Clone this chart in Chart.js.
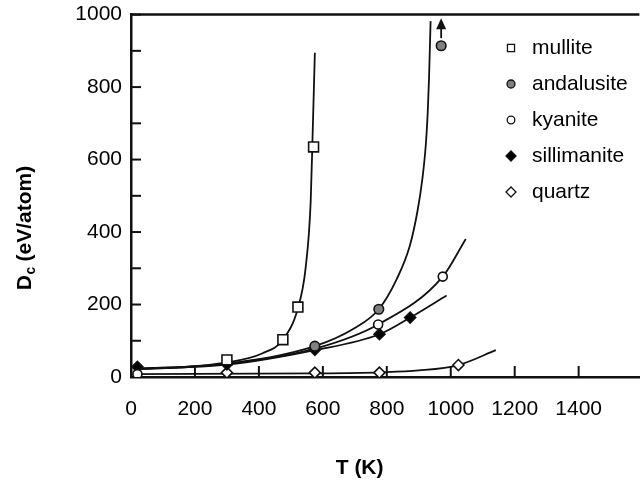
<!DOCTYPE html>
<html>
<head>
<meta charset="utf-8">
<title>Dc vs T</title>
<script src="https://cdn.jsdelivr.net/npm/chart.js@4.4.1/dist/chart.umd.min.js"></script>
<style>
  html, body { margin: 0; padding: 0; background: #fff; overflow: hidden; }
  /* canvas is a little larger than the window so the plot box reaches the top/right like the original */
  #wrap { width: 648px; height: 492px; margin-top: -7px; }
</style>
</head>
<body>
<div id="wrap"><canvas id="dcChart"></canvas></div>
<script>
const labels = ['mullite', 'andalusite', 'kyanite', 'sillimanite', 'quartz']

// measured points (T in K, Dc in eV/atom)
const mulliteT = [300, 475, 522, 571]
const mulliteD = [47, 103, 193, 635]
const andalusiteT = [575, 775, 970]
const andalusiteD = [85, 187, 914]
const kyaniteT = [20, 773, 975]
const kyaniteD = [8, 145, 277]
const sillimaniteT = [20, 300, 575, 777, 873]
const sillimaniteD = [28, 35, 75, 118, 164]
const quartzT = [300, 575, 777, 1024]
const quartzD = [12, 12, 12, 33]

// fitted curves
const mulliteCurveT = [10, 150, 300, 410, 475, 522, 546, 562, 568, 575]
const mulliteCurveD = [22, 26, 40, 65, 103, 190, 300, 485, 668, 895]
const andalusiteCurveT = [10, 300, 575, 700, 775, 831, 872, 896, 911, 922, 928, 932, 937]
const andalusiteCurveD = [22, 37, 85, 135, 187, 270, 362, 458, 545, 641, 731, 822, 982]
const kyaniteCurveT = [10, 300, 575, 773, 975, 1047]
const kyaniteCurveD = [22, 36, 78, 145, 277, 381]
const sillimaniteCurveT = [10, 300, 575, 777, 873, 987]
const sillimaniteCurveD = [22, 34, 74, 118, 164, 225]
const quartzCurveT = [10, 575, 777, 900, 1024, 1141]
const quartzCurveD = [8, 10, 13, 18, 33, 74]

// andalusite lower bound arrow at the last point
const arrowT = 970
const arrowFrom = 935
const arrowTo = 990

const xTicks = [0, 200, 400, 600, 800, 1000, 1200, 1400]

const FONT = "'Liberation Sans', Arial, Helvetica, sans-serif"
Chart.defaults.font.family = FONT
Chart.defaults.font.size = 21
Chart.defaults.color = '#000'

const SHIFT = 7 // matches the css margin-top

const pts = (xs, ys) => xs.map((x, i) => ({ x: x, y: ys[i] }))

const markers = [
  { style: 'rect', radius: 7, fill: '#fff', legendRadius: 5 },
  { style: 'circle', radius: 4.8, fill: '#808080', legendRadius: 4 },
  { style: 'circle', radius: 4.5, fill: '#fff', legendRadius: 3.8 },
  { style: 'rectRot', radius: 5.5, fill: '#000', legendRadius: 5 },
  { style: 'rectRot', radius: 5.5, fill: '#fff', legendRadius: 5 }
]

const pointSets = [
  pts(mulliteT, mulliteD),
  pts(andalusiteT, andalusiteD),
  pts(kyaniteT, kyaniteD),
  pts(sillimaniteT, sillimaniteD),
  pts(quartzT, quartzD)
]
const curveSets = [
  pts(mulliteCurveT, mulliteCurveD),
  pts(andalusiteCurveT, andalusiteCurveD),
  pts(kyaniteCurveT, kyaniteCurveD),
  pts(sillimaniteCurveT, sillimaniteCurveD),
  pts(quartzCurveT, quartzCurveD)
]

const datasets = []
labels.forEach((name, i) => {
  const m = markers[i]
  datasets.push({
    label: name,
    data: pointSets[i],
    showLine: false,
    pointStyle: m.style,
    pointRadius: m.radius,
    pointBackgroundColor: m.fill,
    pointBorderColor: '#111',
    pointBorderWidth: 1.6,
    legendRadius: m.legendRadius,
    order: 0
  })
})
labels.forEach((name, i) => {
  datasets.push({
    label: name + ' fit',
    data: curveSets[i],
    showLine: true,
    pointRadius: 0,
    borderColor: '#111',
    borderWidth: 1.8,
    cubicInterpolationMode: 'monotone',
    fill: false,
    order: 1
  })
})

const frame = {
  id: 'frame',
  afterDatasetsDraw(chart) {
    const { ctx, chartArea: a, scales: { x, y } } = chart
    ctx.save()
    ctx.strokeStyle = '#111'
    ctx.lineWidth = 2.5
    // top border
    ctx.beginPath()
    ctx.moveTo(a.left, a.top)
    ctx.lineTo(a.right, a.top)
    ctx.stroke()
    // inner tick marks
    ctx.lineWidth = 2
    y.ticks.forEach(t => {
      if (t.value <= 0) return
      const py = y.getPixelForValue(t.value)
      ctx.beginPath()
      ctx.moveTo(a.left, py)
      ctx.lineTo(a.left + 10, py)
      ctx.stroke()
    })
    xTicks.forEach(v => {
      if (v <= 0) return
      const px = x.getPixelForValue(v)
      ctx.beginPath()
      ctx.moveTo(px, a.bottom)
      ctx.lineTo(px, a.bottom - 11)
      ctx.stroke()
    })
    // arrow above the last andalusite point
    const ax = x.getPixelForValue(arrowT)
    const ay0 = y.getPixelForValue(arrowFrom)
    const ay1 = y.getPixelForValue(arrowTo)
    ctx.lineWidth = 1.8
    ctx.beginPath()
    ctx.moveTo(ax, ay0)
    ctx.lineTo(ax, ay1 + 8)
    ctx.stroke()
    ctx.fillStyle = '#111'
    ctx.beginPath()
    ctx.moveTo(ax, ay1)
    ctx.lineTo(ax - 5, ay1 + 11)
    ctx.lineTo(ax + 5, ay1 + 11)
    ctx.closePath()
    ctx.fill()

    // legend inside the plot
    ctx.font = '21px ' + FONT
    ctx.textBaseline = 'middle'
    ctx.textAlign = 'left'
    chart.data.datasets.filter(d => !d.showLine).forEach((d, i) => {
      const ly = SHIFT + 48 + i * 36
      ctx.lineWidth = 1.3
      ctx.strokeStyle = '#111'
      ctx.fillStyle = d.pointBackgroundColor
      Chart.helpers.drawPoint(ctx, {
        pointStyle: d.pointStyle,
        radius: d.legendRadius,
        rotation: 0,
        borderWidth: 1.3
      }, 511, ly)
      ctx.fillStyle = '#000'
      ctx.fillText(d.label, 532, ly)
    })
    ctx.restore()
  },
  afterDraw(chart) {
    const { ctx, scales: { x } } = chart
    ctx.save()
    ctx.fillStyle = '#000'
    // x title
    ctx.font = 'bold 21px ' + FONT
    ctx.textAlign = 'center'
    ctx.textBaseline = 'middle'
    ctx.fillText('T (K)', x.getPixelForValue(715), SHIFT + 468)
    // y title with subscript
    ctx.translate(23, SHIFT + 228)
    ctx.rotate(-Math.PI / 2)
    ctx.textAlign = 'left'
    ctx.textBaseline = 'alphabetic'
    ctx.font = 'bold 21px ' + FONT
    const wD = ctx.measureText('D').width
    const rest = ' (eV/atom)'
    const wR = ctx.measureText(rest).width
    ctx.font = 'bold 14px ' + FONT
    const wc = ctx.measureText('c').width
    const x0 = -(wD + wc + wR) / 2
    ctx.font = 'bold 21px ' + FONT
    ctx.fillText('D', x0, 7.5)
    ctx.fillText(rest, x0 + wD + wc, 7.5)
    ctx.font = 'bold 14px ' + FONT
    ctx.fillText('c', x0 + wD + 0.5, 12)
    ctx.restore()
  }
}

new Chart(document.getElementById('dcChart'), {
  type: 'scatter',
  data: { datasets: datasets },
  options: {
    responsive: true,
    maintainAspectRatio: false,
    animation: false,
    layout: { padding: 0 },
    plugins: {
      legend: { display: false },
      tooltip: { enabled: false }
    },
    scales: {
      x: {
        type: 'linear',
        min: 0,
        max: 1590,
        grid: { display: false, drawTicks: false },
        border: { display: true, color: '#111', width: 2.5 },
        afterBuildTicks: s => { s.ticks = xTicks.map(v => ({ value: v })) },
        ticks: {
          autoSkip: false,
          maxRotation: 0,
          padding: 20,
          callback: v => String(v)
        },
        afterFit: s => { s.height = 108 }
      },
      y: {
        min: 0,
        max: 1000,
        grid: { display: false, drawTicks: false },
        border: { display: true, color: '#111', width: 2.5 },
        ticks: {
          stepSize: 100,
          autoSkip: false,
          padding: 9,
          callback: v => v % 200 === 0 ? v : ''
        },
        afterFit: s => { s.width = 131 }
      }
    }
  },
  plugins: [frame]
})
</script>
</body>
</html>
